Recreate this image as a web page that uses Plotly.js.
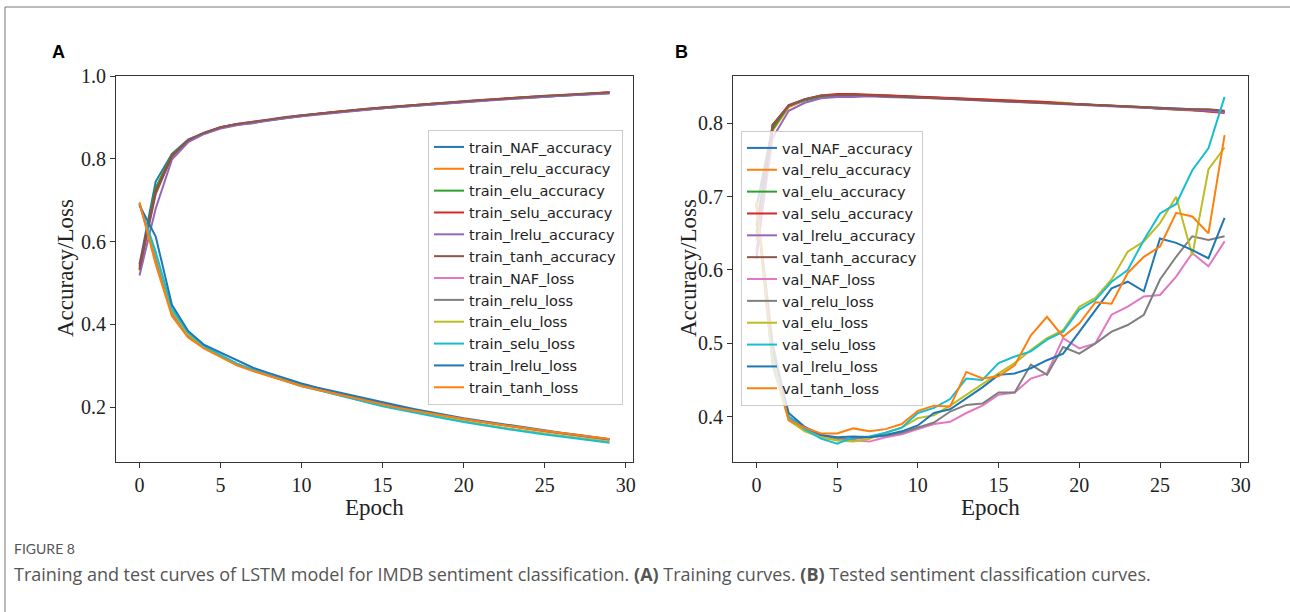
<!DOCTYPE html>
<html>
<head>
<meta charset="utf-8">
<script src="https://cdn.plot.ly/plotly-3.0.1.min.js"></script>
<style>
html, body { margin: 0; padding: 0; background: #fff; }
#chart { width: 1290px; height: 612px; }
</style>
</head>
<body>
<div id="chart"></div>
<script>
const epochs = [0,1,2,3,4,5,6,7,8,9,10,11,12,13,14,15,16,17,18,19,20,21,22,23,24,25,26,27,28,29];
const activations = ["NAF", "relu", "elu", "selu", "lrelu", "tanh"];

// Panel A: training accuracy
const train_NAF_accuracy   = [0.545,0.745,0.812,0.846,0.863,0.876,0.883,0.886,0.894,0.900,0.905,0.908,0.912,0.916,0.919,0.922,0.926,0.929,0.932,0.935,0.938,0.941,0.943,0.946,0.948,0.950,0.953,0.955,0.957,0.959];
const train_relu_accuracy  = [0.530,0.725,0.808,0.843,0.862,0.874,0.882,0.888,0.894,0.899,0.904,0.909,0.913,0.916,0.920,0.923,0.926,0.930,0.933,0.935,0.938,0.941,0.944,0.946,0.949,0.951,0.953,0.955,0.958,0.960];
const train_elu_accuracy   = [0.535,0.730,0.810,0.845,0.861,0.875,0.883,0.888,0.893,0.899,0.903,0.908,0.912,0.916,0.919,0.922,0.925,0.929,0.932,0.935,0.937,0.940,0.943,0.945,0.948,0.950,0.952,0.955,0.957,0.959];
const train_selu_accuracy  = [0.540,0.720,0.807,0.844,0.862,0.876,0.884,0.889,0.895,0.900,0.904,0.909,0.913,0.917,0.920,0.924,0.927,0.930,0.933,0.936,0.939,0.941,0.944,0.947,0.949,0.951,0.954,0.956,0.958,0.961];
const train_lrelu_accuracy = [0.518,0.680,0.798,0.840,0.860,0.873,0.881,0.887,0.893,0.898,0.903,0.907,0.911,0.915,0.918,0.922,0.925,0.928,0.931,0.934,0.937,0.940,0.942,0.945,0.947,0.950,0.952,0.954,0.956,0.958];
const train_tanh_accuracy  = [0.532,0.715,0.805,0.846,0.863,0.876,0.884,0.889,0.895,0.901,0.905,0.910,0.914,0.917,0.921,0.924,0.927,0.931,0.934,0.936,0.939,0.942,0.944,0.947,0.949,0.952,0.954,0.956,0.958,0.961];

// Panel A: training loss
const train_NAF_loss   = [0.690,0.560,0.425,0.372,0.344,0.323,0.304,0.289,0.277,0.265,0.252,0.243,0.234,0.225,0.216,0.207,0.199,0.192,0.184,0.177,0.170,0.164,0.158,0.152,0.146,0.141,0.136,0.131,0.126,0.120];
const train_relu_loss  = [0.692,0.565,0.430,0.374,0.345,0.324,0.305,0.290,0.278,0.266,0.253,0.244,0.235,0.226,0.217,0.208,0.200,0.193,0.185,0.178,0.171,0.165,0.159,0.153,0.147,0.142,0.137,0.132,0.127,0.122];
const train_elu_loss   = [0.691,0.570,0.433,0.376,0.346,0.324,0.305,0.289,0.276,0.264,0.251,0.242,0.232,0.223,0.213,0.204,0.196,0.188,0.180,0.173,0.166,0.159,0.153,0.147,0.141,0.136,0.131,0.126,0.121,0.116];
const train_selu_loss  = [0.690,0.575,0.438,0.380,0.347,0.325,0.305,0.289,0.276,0.263,0.250,0.241,0.231,0.222,0.212,0.202,0.194,0.186,0.178,0.171,0.164,0.157,0.151,0.145,0.139,0.134,0.129,0.124,0.119,0.114];
const train_lrelu_loss = [0.688,0.612,0.447,0.384,0.350,0.331,0.312,0.295,0.282,0.270,0.257,0.247,0.238,0.229,0.220,0.211,0.203,0.195,0.187,0.180,0.173,0.167,0.161,0.155,0.149,0.143,0.138,0.133,0.128,0.122];
const train_tanh_loss  = [0.695,0.545,0.420,0.368,0.341,0.320,0.301,0.287,0.275,0.263,0.251,0.242,0.233,0.224,0.215,0.206,0.198,0.191,0.184,0.177,0.171,0.165,0.159,0.153,0.148,0.143,0.138,0.133,0.128,0.123];

// Panel B: validation accuracy
const val_NAF_accuracy   = [0.685,0.795,0.823,0.831,0.836,0.838,0.838,0.838,0.837,0.836,0.836,0.835,0.834,0.833,0.832,0.831,0.830,0.829,0.828,0.827,0.826,0.825,0.824,0.823,0.822,0.821,0.820,0.819,0.818,0.816];
const val_relu_accuracy  = [0.640,0.790,0.822,0.832,0.837,0.839,0.839,0.839,0.838,0.837,0.836,0.835,0.834,0.833,0.833,0.832,0.831,0.830,0.829,0.828,0.826,0.825,0.824,0.823,0.822,0.820,0.819,0.818,0.817,0.815];
const val_elu_accuracy   = [0.650,0.792,0.824,0.832,0.837,0.839,0.839,0.839,0.838,0.837,0.836,0.835,0.834,0.833,0.832,0.831,0.830,0.829,0.828,0.827,0.826,0.825,0.824,0.823,0.822,0.820,0.819,0.819,0.818,0.816];
const val_selu_accuracy  = [0.615,0.797,0.825,0.833,0.838,0.840,0.840,0.839,0.838,0.837,0.836,0.835,0.834,0.834,0.833,0.832,0.831,0.830,0.829,0.827,0.826,0.825,0.824,0.823,0.821,0.820,0.819,0.818,0.816,0.814];
const val_lrelu_accuracy = [0.625,0.780,0.817,0.828,0.834,0.836,0.836,0.837,0.836,0.835,0.835,0.834,0.833,0.832,0.831,0.830,0.829,0.828,0.827,0.826,0.825,0.824,0.823,0.822,0.821,0.819,0.818,0.818,0.817,0.815];
const val_tanh_accuracy  = [0.660,0.798,0.824,0.833,0.838,0.839,0.839,0.838,0.837,0.836,0.836,0.835,0.834,0.833,0.832,0.831,0.830,0.829,0.828,0.827,0.826,0.825,0.824,0.823,0.822,0.821,0.820,0.819,0.819,0.817];

// Panel B: validation loss
const val_NAF_loss   = [0.690,0.500,0.398,0.382,0.372,0.368,0.368,0.366,0.372,0.376,0.383,0.390,0.393,0.405,0.415,0.430,0.433,0.452,0.459,0.507,0.493,0.500,0.539,0.550,0.564,0.566,0.591,0.623,0.605,0.639];
const val_relu_loss  = [0.692,0.500,0.400,0.385,0.375,0.370,0.370,0.372,0.374,0.378,0.385,0.392,0.407,0.416,0.418,0.433,0.433,0.471,0.457,0.495,0.486,0.500,0.516,0.525,0.539,0.587,0.618,0.646,0.641,0.646];
const val_elu_loss   = [0.691,0.470,0.395,0.380,0.372,0.368,0.366,0.370,0.378,0.385,0.398,0.402,0.415,0.430,0.445,0.459,0.473,0.491,0.507,0.518,0.550,0.562,0.587,0.625,0.639,0.664,0.700,0.620,0.737,0.767];
const val_selu_loss  = [0.690,0.470,0.400,0.383,0.370,0.363,0.372,0.373,0.378,0.385,0.405,0.412,0.424,0.452,0.450,0.473,0.482,0.489,0.505,0.516,0.546,0.559,0.584,0.600,0.641,0.677,0.690,0.736,0.766,0.836];
const val_lrelu_loss = [0.689,0.490,0.405,0.386,0.375,0.372,0.373,0.372,0.375,0.380,0.388,0.405,0.410,0.425,0.440,0.457,0.459,0.466,0.477,0.486,0.516,0.546,0.575,0.584,0.571,0.643,0.637,0.627,0.616,0.671];
const val_tanh_loss  = [0.693,0.480,0.395,0.385,0.377,0.377,0.384,0.380,0.383,0.390,0.408,0.415,0.414,0.461,0.452,0.455,0.470,0.511,0.536,0.509,0.527,0.556,0.554,0.596,0.618,0.632,0.678,0.673,0.650,0.784];

const colors = ["#1f77b4","#ff7f0e","#2ca02c","#d62728","#9467bd","#8c564b","#e377c2","#7f7f7f","#bcbd22","#17becf","#1f77b4","#ff7f0e"];

const panelA = [
  ["train_NAF_accuracy", train_NAF_accuracy], ["train_relu_accuracy", train_relu_accuracy],
  ["train_elu_accuracy", train_elu_accuracy], ["train_selu_accuracy", train_selu_accuracy],
  ["train_lrelu_accuracy", train_lrelu_accuracy], ["train_tanh_accuracy", train_tanh_accuracy],
  ["train_NAF_loss", train_NAF_loss], ["train_relu_loss", train_relu_loss],
  ["train_elu_loss", train_elu_loss], ["train_selu_loss", train_selu_loss],
  ["train_lrelu_loss", train_lrelu_loss], ["train_tanh_loss", train_tanh_loss]
];
const panelB = [
  ["val_NAF_accuracy", val_NAF_accuracy], ["val_relu_accuracy", val_relu_accuracy],
  ["val_elu_accuracy", val_elu_accuracy], ["val_selu_accuracy", val_selu_accuracy],
  ["val_lrelu_accuracy", val_lrelu_accuracy], ["val_tanh_accuracy", val_tanh_accuracy],
  ["val_NAF_loss", val_NAF_loss], ["val_relu_loss", val_relu_loss],
  ["val_elu_loss", val_elu_loss], ["val_selu_loss", val_selu_loss],
  ["val_lrelu_loss", val_lrelu_loss], ["val_tanh_loss", val_tanh_loss]
];

const traces = [];
panelA.forEach((s, i) => traces.push({
  type: "scatter", mode: "lines", x: epochs, y: s[1], name: s[0],
  xaxis: "x", yaxis: "y", legend: "legend", legendgroup: "a" + i,
  line: {color: colors[i], width: 2}
}));
panelB.forEach((s, i) => traces.push({
  type: "scatter", mode: "lines", x: epochs, y: s[1], name: s[0],
  xaxis: "x2", yaxis: "y2", legend: "legend2", legendgroup: "b" + i,
  line: {color: colors[i], width: 2}
}));

const W = 1290, H = 612;
const px = v => v / W;
const py = v => 1 - v / H;

const serif = "Liberation Serif, Times New Roman, serif";
const tickFont = {family: serif, size: 20, color: "#222"};
const titleFont = {family: serif, size: 23, color: "#222"};

function xax(domain) {
  return {
    domain: domain, range: [-1.45, 30.45], tickvals: [0,5,10,15,20,25,30],
    ticks: "outside", ticklen: 5, tickwidth: 1, tickcolor: "#333",
    showline: true, linecolor: "#333", linewidth: 1, mirror: true,
    showgrid: false, zeroline: false, tickfont: tickFont, automargin: false
  };
}
function yax(range, tickvals, anchor) {
  return {
    domain: [py(461.7), py(76)], range: range, tickvals: tickvals, tickformat: ".1f",
    ticks: "outside", ticklen: 5, tickwidth: 1, tickcolor: "#333",
    showline: true, linecolor: "#333", linewidth: 1, mirror: true,
    showgrid: false, zeroline: false, tickfont: tickFont, anchor: anchor, automargin: false
  };
}

const legendBase = {
  font: {family: "DejaVu Sans, sans-serif", size: 14.5, color: "#222"},
  bgcolor: "rgba(255,255,255,0.8)", bordercolor: "#cccccc", borderwidth: 1,
  xanchor: "left", yanchor: "top", traceorder: "grouped", tracegroupgap: 0
};

function titleAnn(text, x, y, angle) {
  return {xref: "paper", yref: "paper", x: x, y: y, xanchor: "center", yanchor: "middle",
          text: text, textangle: angle, showarrow: false, font: titleFont};
}

const layout = {
  width: W, height: H,
  margin: {l: 0, r: 0, t: 0, b: 0},
  paper_bgcolor: "#fff", plot_bgcolor: "#fff",
  showlegend: true,
  xaxis: Object.assign(xax([px(116), px(633)]), {anchor: "y"}),
  yaxis: yax([0.068, 1.0], [0.2, 0.4, 0.6, 0.8, 1.0], "x"),
  xaxis2: Object.assign(xax([px(733), px(1248)]), {anchor: "y2"}),
  yaxis2: yax([0.3386, 0.8645], [0.4, 0.5, 0.6, 0.7, 0.8], "x2"),
  legend: Object.assign({}, legendBase, {x: px(428), y: py(130)}),
  legend2: Object.assign({}, legendBase, {x: px(741), y: py(131)}),
  shapes: [
    {type: "line", xref: "paper", yref: "paper", x0: px(5), x1: 1.01, y0: py(7), y1: py(7), line: {color: "#777", width: 1}},
    {type: "line", xref: "paper", yref: "paper", x0: px(5), x1: px(5), y0: py(7), y1: -0.01, line: {color: "#777", width: 1}}
  ],
  annotations: [
    titleAnn("Epoch", px(374.5), py(507), 0),
    titleAnn("Epoch", px(990.5), py(507), 0),
    titleAnn("Accuracy/Loss", px(65), py(268), -90),
    titleAnn("Accuracy/Loss", px(688), py(268), -90),
    {xref: "paper", yref: "paper", x: px(58), y: py(52), xanchor: "center", yanchor: "middle", text: "<b>A</b>", showarrow: false,
     font: {family: "Liberation Sans, Arial, sans-serif", size: 18, color: "#000"}},
    {xref: "paper", yref: "paper", x: px(681), y: py(52), xanchor: "center", yanchor: "middle", text: "<b>B</b>", showarrow: false,
     font: {family: "Liberation Sans, Arial, sans-serif", size: 18, color: "#000"}},
    {xref: "paper", yref: "paper", x: px(12), y: py(548), xanchor: "left", yanchor: "middle", text: "FIGURE 8", showarrow: false,
     font: {family: "Lato, sans-serif", size: 14, color: "#555"}},
    {xref: "paper", yref: "paper", x: px(12), y: py(574), xanchor: "left", yanchor: "middle", showarrow: false,
     text: "Training and test curves of LSTM model for IMDB sentiment classification. <b>(A)</b> Training curves. <b>(B)</b> Tested sentiment classification curves.",
     font: {family: "Open Sans, sans-serif", size: 18, color: "#555"}}
  ]
};

Plotly.newPlot("chart", traces, layout, {staticPlot: true, displayModeBar: false});
</script>
</body>
</html>
